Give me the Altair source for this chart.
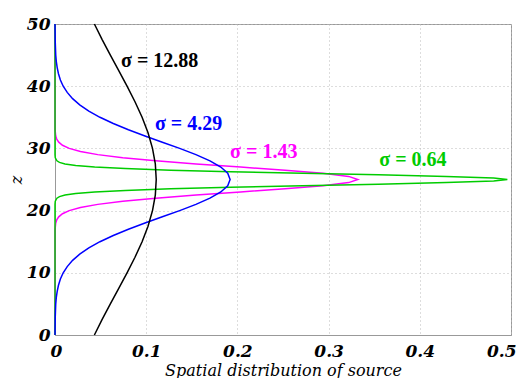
import altair as alt
import pandas as pd

# --- data ---
black_z = [0, 2.5, 5, 7.5, 10, 12.5, 15, 17.5, 20, 22.5, 25, 27.5, 30, 32.5, 35, 37.5, 40, 42.5, 45, 47.5, 50]
black_x = [0.0432, 0.0517, 0.0607, 0.0699, 0.0790, 0.0877, 0.0955, 0.1020, 0.1069, 0.1100, 0.1110,
           0.1100, 0.1069, 0.1020, 0.0955, 0.0877, 0.0790, 0.0699, 0.0607, 0.0517, 0.0432]

blue_z = [0, 3, 5, 6, 7, 8, 9, 10, 11, 12, 13, 14, 15, 16, 17, 18, 19, 20, 21, 22, 23, 24, 25,
          26, 27, 28, 29, 30, 31, 32, 33, 34, 35, 36, 37, 38, 39, 40, 41, 42, 43, 44, 45, 47, 50]
blue_x = [0.0000, 0.0003, 0.0008, 0.0014, 0.0024, 0.0038, 0.0059, 0.0090, 0.0134, 0.0193, 0.0271,
          0.0371, 0.0493, 0.0639, 0.0805, 0.0987, 0.1177, 0.1367, 0.1545, 0.1699, 0.1818, 0.1894, 0.1920,
          0.1894, 0.1818, 0.1699, 0.1545, 0.1367, 0.1177, 0.0987, 0.0805, 0.0639, 0.0493, 0.0371,
          0.0271, 0.0193, 0.0134, 0.0090, 0.0059, 0.0038, 0.0024, 0.0014, 0.0008, 0.0003, 0.0000]

magenta_z = [0, 17, 18, 18.5, 19, 19.5, 20, 20.5, 21, 21.5, 22, 22.5, 23, 23.5, 24, 24.5, 25,
             25.5, 26, 26.5, 27, 27.5, 28, 28.5, 29, 29.5, 30, 30.5, 31, 31.5, 32, 33, 50]
magenta_x = [0, 0.0001, 0.0008, 0.0019, 0.0041, 0.0082, 0.0156, 0.0279, 0.0469, 0.0743, 0.1105,
             0.1547, 0.2035, 0.2522, 0.2938, 0.3220, 0.3320,
             0.3220, 0.2938, 0.2522, 0.2035, 0.1547, 0.1105, 0.0743, 0.0469, 0.0279, 0.0156,
             0.0082, 0.0041, 0.0019, 0.0008, 0.0001, 0]

green_z = [0, 21, 21.5, 22, 22.25, 22.5, 22.75, 23, 23.25, 23.5, 23.75, 24, 24.25, 24.5, 24.75, 25,
           25.25, 25.5, 25.75, 26, 26.25, 26.5, 26.75, 27, 27.25, 27.5, 27.75, 28, 28.5, 29, 50]
green_x = [0, 0, 0.0003, 0.0021, 0.0049, 0.0110, 0.0227, 0.0435, 0.0771, 0.1266, 0.1926, 0.2715,
           0.3547, 0.4290, 0.4810, 0.4960,
           0.4810, 0.4290, 0.3547, 0.2715, 0.1926, 0.1266, 0.0771, 0.0435, 0.0227, 0.0110,
           0.0049, 0.0021, 0.0003, 0, 0]

label_text = ["σ = 12.88", "σ = 4.29", "σ = 1.43", "σ = 0.64"]
label_x = [0.0724, 0.1096, 0.192, 0.3556]
label_z = [43.1, 33.0, 28.4, 27.1]
label_color = ["#000000", "#0000ff", "#ff00ff", "#00cc00"]

x_ticks = [0, 0.1, 0.2, 0.3, 0.4, 0.5]
y_ticks = [0, 10, 20, 30, 40, 50]

x_enc = alt.X("x:Q", scale=alt.Scale(domain=[0, 0.5], nice=False, zero=False),
              axis=alt.Axis(values=x_ticks, format=".1~f", title="Spatial distribution of source",
                            titleY=40, titleBaseline="alphabetic", labelPadding=8,
                            labelFlush=True, labelFlushOffset=5))
y_enc = alt.Y("z:Q", scale=alt.Scale(domain=[0, 50], nice=False),
              axis=alt.Axis(values=y_ticks, format="d", title="z", titleX=-39, titleY=155.5,
                            titleAngle=-90, titleAlign="center", titleBaseline="middle",
                            labelPadding=5, labelFlush=False))

layers = []
for zs, xs, col in [(magenta_z, magenta_x, "#ff00ff"), (green_z, green_x, "#00cc00"),
                    (blue_z, blue_x, "#0000ff"), (black_z, black_x, "#000000")]:
    df = pd.DataFrame({"x": xs, "z": zs})
    layers.append(
        alt.Chart(df).mark_line(color=col, strokeWidth=1.5).encode(
            x=x_enc, y=y_enc, order=alt.Order("z:Q")
        )
    )

lab_df = pd.DataFrame({"x": label_x, "z": label_z, "t": label_text, "c": label_color})
labels = alt.Chart(lab_df).mark_text(
    align="left", baseline="alphabetic", font="Liberation Serif", fontWeight="bold", fontSize=20
).encode(x=x_enc, y=y_enc, text="t:N", color=alt.Color("c:N", scale=None))

chart = alt.layer(*layers, labels).properties(
    width=456, height=311,
    autosize=alt.AutoSizeParams(type="none"),
    padding={"left": 47, "top": 16, "right": 5, "bottom": 43},
).configure_view(stroke="#999999", strokeWidth=1).configure_axis(
    domainColor="#999999", ticks=False, tickSize=0,
    grid=True, gridColor="#bbbbbb", gridDash=[1, 3], gridWidth=1,
    labelFont="DejaVu Serif", labelFontStyle="italic", labelFontWeight="bold",
    labelFontSize=17, labelColor="#000000", labelOverlap=False,
    titleFont="DejaVu Serif", titleFontStyle="italic", titleFontWeight="normal",
    titleFontSize=16, titleColor="#000000",
)

chart.save("out.html", embed_options={"renderer": "svg", "actions": False})
